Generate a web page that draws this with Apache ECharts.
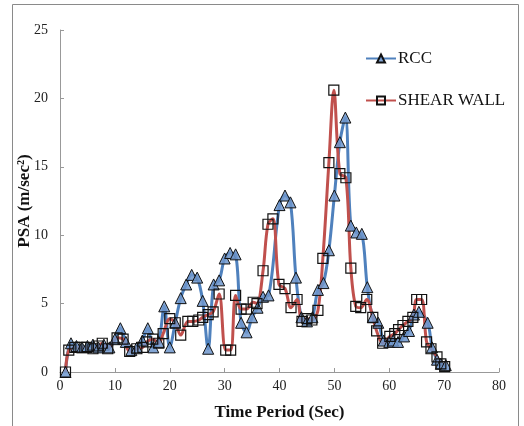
<!DOCTYPE html>
<html>
<head>
<meta charset="utf-8">
<script src="https://cdn.jsdelivr.net/npm/echarts@6/dist/echarts.min.js"></script>
<style>html,body{margin:0;padding:0;background:#fff;}#c{width:524px;height:426px;}</style>
</head>
<body>
<div id="c"></div>
<script>
// Time (s) and PSA (m/sec^2)
var rccTime = [1,2,3,4,5,6,7,8,9,10,11,12,13,14,15,16,17,18,19,20,21,22,23,24,25,26,27,28,29,30,31,32,33,34,35,36,37,38,40,41,42,43,44,45,46,47,48,49,50,51,52,53,54,55,56,57,58,59,60,60.7,61.6,62.7,63.6,64.5,65.4,67,67.8,68.7,69.4,70.3];
var rccPSA  = [0,2.1,1.9,1.8,1.9,2.0,1.8,2.0,1.8,2.4,3.2,2.2,1.6,1.8,2.3,3.2,1.8,2.2,4.8,1.8,3.6,5.4,6.4,7.1,6.9,5.2,1.7,6.4,6.7,8.3,8.7,8.6,3.6,2.9,4.0,4.7,5.5,5.6,12.2,12.9,12.4,6.9,4.0,3.7,4.0,6.0,6.5,8.9,12.9,16.8,18.6,10.7,10.2,10.1,6.2,4.0,3.6,2.3,2.2,2.3,2.2,2.6,3.0,4.2,4.4,3.6,1.8,0.9,0.6,0.5];
var swTime = [1,1.6,2.7,3.8,4.9,6,7,7.7,8.7,10.4,11.5,12.7,14,15.1,15.8,16.9,18,18.8,20,21,22,23.3,24.2,25.3,26,27,27.9,29,30.2,31.1,32,33,34,35.2,35.9,37,37.9,38.8,39.9,41,42.1,43.2,44.1,45,45.9,47,47.9,49,49.9,51,52.1,53,53.9,54.8,55.9,57,57.7,58.8,60.1,61,61.7,62.5,63.4,64.3,65,65.9,66.8,67.6,68.7,69.4,70.1];
var swPSA  = [0,1.6,1.8,1.8,1.8,1.7,1.9,2.1,1.7,2.5,2.4,1.5,1.7,1.8,2.2,2.4,2.1,2.8,3.9,3.6,2.7,3.7,3.7,3.8,4.0,4.2,4.4,5.7,1.6,1.6,5.6,4.6,4.6,5.1,5.0,7.4,10.8,11.2,6.4,6.1,4.7,5.3,3.7,3.9,3.8,4.5,8.3,15.3,20.6,14.5,14.2,7.6,4.8,4.7,5.3,4.0,3.0,2.1,2.6,2.8,3.1,3.4,3.7,4.0,5.3,5.3,2.2,1.7,1.1,0.6,0.4];
var seriesNames = ['RCC','SHEAR WALL'];
var xTicks = {min:0, max:80, interval:10};
var yTicks = {min:0, max:25, interval:5};

function pairs(t, v){ return t.map(function(x,i){ return [x, v[i]]; }); }

var font = 'Liberation Serif';
var chart = echarts.init(document.getElementById('c'), null, {renderer:'canvas'});
chart.setOption({
  animation:false,
  backgroundColor:'#fff',
  graphic:[{type:'rect', shape:{x:12.5,y:4.5,width:506,height:440}, style:{fill:'none', stroke:'#8a8a8a', lineWidth:1}, silent:true}],
  grid:{left:60, top:30, right:25, bottom:54},
  legend:{
    orient:'vertical', left:360, top:45, itemGap:25, itemWidth:30, itemHeight:10,
    textStyle:{fontFamily:font, fontSize:17, color:'#111', padding:[0,0,0,-3]},
    data:seriesNames
  },
  xAxis:{
    type:'value', min:xTicks.min, max:xTicks.max, interval:xTicks.interval,
    name:'Time Period (Sec)', nameLocation:'middle', nameGap:32, nameMoveOverlap:false,
    nameTextStyle:{fontFamily:font, fontSize:17, fontWeight:'bold', color:'#111'},
    axisLine:{show:true, lineStyle:{color:'#999'}},
    axisTick:{show:true, inside:true, length:4, lineStyle:{color:'#999'}},
    axisLabel:{fontFamily:font, fontSize:14, color:'#222', margin:7},
    splitLine:{show:false}
  },
  yAxis:{
    type:'value', min:yTicks.min, max:yTicks.max, interval:yTicks.interval,
    name:'PSA (m/sec²)', nameLocation:'middle', nameGap:27, nameMoveOverlap:false,
    nameTextStyle:{fontFamily:font, fontSize:17, fontWeight:'bold', color:'#111'},
    axisLine:{show:true, lineStyle:{color:'#999'}},
    axisTick:{show:true, inside:true, length:4, lineStyle:{color:'#999'}},
    axisLabel:{fontFamily:font, fontSize:14, color:'#222', margin:12},
    splitLine:{show:false}
  },
  series:[
    {name:seriesNames[0], type:'line', smooth:0.35, data:pairs(rccTime, rccPSA),
     symbol:'triangle', symbolSize:11,
     lineStyle:{color:'#4F81BD', width:3},
     itemStyle:{color:'rgba(110,150,205,0.85)', borderColor:'#111', borderWidth:1}},
    {name:seriesNames[1], type:'line', smooth:0.35, data:pairs(swTime, swPSA),
     symbol:'rect', symbolSize:10,
     lineStyle:{color:'#C0504D', width:3},
     itemStyle:{color:'rgba(255,255,255,0)', borderColor:'#111', borderWidth:1.2}}
  ]
});
</script>
</body>
</html>
